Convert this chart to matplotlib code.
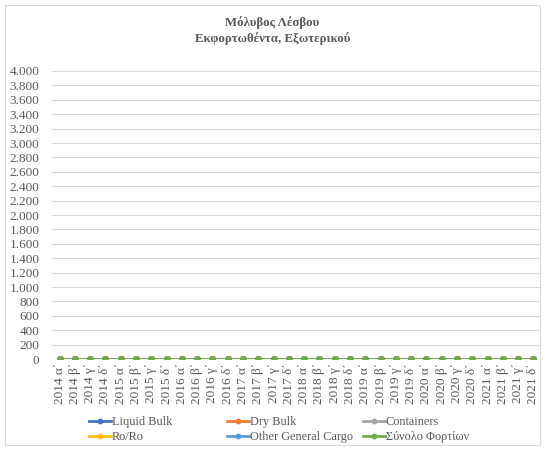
import matplotlib
matplotlib.use("Agg")
import matplotlib.pyplot as plt
from matplotlib.patches import Rectangle

plt.rcParams['font.family'] = ['Liberation Serif', 'DejaVu Serif']

years = [2014, 2015, 2016, 2017, 2018, 2019, 2020, 2021]
quarters = ["α΄", "β΄", "γ΄", "δ΄"]
categories = [f"{y} {q}" for y in years for q in quarters]

liquid_bulk = [0] * 32
dry_bulk = [0] * 32
containers = [0] * 32
ro_ro = [0] * 32
other_general = [0] * 32
total = [0] * 32

series = [
    ("Liquid Bulk", liquid_bulk, "#4472C4"),
    ("Dry Bulk", dry_bulk, "#ED7D31"),
    ("Containers", containers, "#A5A5A5"),
    ("Ro/Ro", ro_ro, "#FFC000"),
    ("Other General Cargo", other_general, "#5B9BD5"),
    ("Σύνολο Φορτίων", total, "#70AD47"),
]

yticks = list(range(0, 4001, 200))

fig = plt.figure(figsize=(5.45, 4.5), dpi=100)
fig.patches.append(Rectangle((5/545, 5/450), 535/545, 440/450, transform=fig.transFigure,
                             fill=False, edgecolor="#d9d9d9", linewidth=0.8))
ax = fig.add_axes([52/545, 1-359/450, 489/545, 288/450])

x = list(range(len(categories)))
handles = []
for name, vals, col in series:
    h, = ax.plot(x, vals, color=col, marker="o", markersize=4, linewidth=2, label=name)
    handles.append(h)

ax.set_xlim(-0.5, len(categories) - 0.5)
ax.set_ylim(0, 4000)
ax.set_yticks(yticks)
ax.set_yticklabels([f"{v:,}".replace(",", ".") for v in yticks], fontsize=9.5, color="#595959")
ax.set_xticks(x)
ax.set_xticklabels(categories, rotation=90, fontsize=9.5, color="#595959")
ax.tick_params(axis="both", length=0, pad=3)
ax.tick_params(axis="y", pad=9)
ax.grid(axis="y", color="#d9d9d9", linewidth=0.8)
ax.set_axisbelow(True)
for s in ax.spines.values():
    s.set_visible(False)

fig.text(0.5, 1-30.5/450, "Μόλυβος Λέσβου\nΕκφορτωθέντα, Εξωτερικού", ha="center", va="center",
         fontsize=9.3, fontweight="bold", color="#595959", linespacing=1.3)

col_x = [89, 227, 363]
for c in range(3):
    idx = [c, c + 3]
    leg = fig.legend([handles[i] for i in idx], [series[i][0] for i in idx],
                     loc="center left", bbox_to_anchor=(col_x[c]/545, 1-429.5/450), ncol=1,
                     frameon=False, prop={'family': ['Liberation Serif'], 'size': 8.8},
                     handlelength=1.8, labelspacing=0.25, markerscale=0.8,
                     handletextpad=0.05, borderaxespad=0, borderpad=0)
    for t in leg.get_texts():
        t.set_color("#595959")

fig.savefig("out.png", dpi=100)
